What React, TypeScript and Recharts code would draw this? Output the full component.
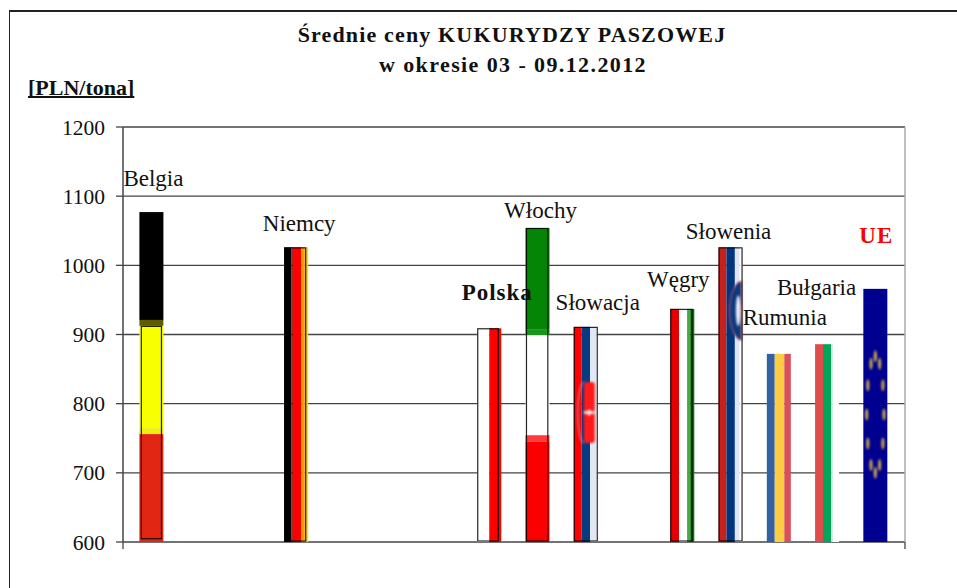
import React from "react";
import { BarChart, Bar, XAxis, YAxis, CartesianGrid, LabelList } from "recharts";

const countries = ["Belgia", "", "", "Niemcy", "", "", "", "Polska", "Włochy", "Słowacja", "", "Węgry", "Słowenia", "Rumunia", "Bułgaria", "UE"];
const prices = [1077, null, null, 1026, null, null, null, 909, 1054, 911, null, 937, 1026, 872, 886, 966];
const yTicks = [600, 700, 800, 900, 1000, 1100, 1200];
const titleLines = ["Średnie ceny KUKURYDZY PASZOWEJ", "w okresie 03 - 09.12.2012"];
const unitLabel = "[PLN/tona]";

const rows = countries.map((name, slot) => ({ slot, name, price: prices[slot] }));

const FONT = '"Liberation Serif", "Times New Roman", serif';

type Stripe = [number, number, string];
type Flag = { dir: "v" | "h"; stripes: Stripe[]; outline?: [number, number, number, number]; emblem?: "sk" | "si" | "eu" };

const flags: Record<string, Flag> = {
  Belgia: {
    dir: "h",
    stripes: [[0, 0.327, "#000000"], [0.327, 0.345, "#5f5c00"], [0.345, 0.655, "#f7ff00"], [0.655, 0.673, "#eeef10"], [0.673, 1, "#e12614"]],
    outline: [0.06, 0.345, 0.88, 0.648],
  },
  Niemcy: {
    dir: "v",
    stripes: [[0, 0.3, "#000000"], [0.3, 0.36, "#8a0000"], [0.36, 0.72, "#ff0000"], [0.72, 0.86, "#ff9a00"], [0.86, 0.92, "#ffd000"], [0.92, 1, "#ffe000"]],
    outline: [0, 0, 0.92, 1],
  },
  Polska: { dir: "v", stripes: [[0, 0.5, "#ffffff"], [0.5, 1, "#ff0000"]], outline: [0, 0, 0.9, 1] },
  "Włochy": {
    dir: "h",
    stripes: [[0, 0.322, "#058505"], [0.322, 0.342, "#1a941a"], [0.342, 0.66, "#ffffff"], [0.66, 0.68, "#ff3b3b"], [0.68, 1, "#fb0000"]],
    outline: [0.02, 0, 0.93, 1],
  },
  "Słowacja": { dir: "v", stripes: [[0, 0.32, "#ff0000"], [0.32, 0.68, "#0a3a80"], [0.68, 0.95, "#dfe8f4"], [0.95, 1, "#ffffff"]], outline: [0, 0, 1, 1], emblem: "sk" },
  "Węgry": { dir: "v", stripes: [[0, 0.37, "#e20000"], [0.37, 0.7, "#ffffff"], [0.7, 0.83, "#4ea64e"], [0.83, 1, "#007a00"]], outline: [0, 0, 0.93, 1] },
  "Słowenia": { dir: "v", stripes: [[0, 0.33, "#c8201a"], [0.33, 0.68, "#00357f"], [0.68, 0.88, "#dfe6f0"], [0.88, 1, "#ffffff"]], outline: [0, 0, 1, 1], emblem: "si" },
  Rumunia: { dir: "v", stripes: [[0, 0.33, "#34619f"], [0.33, 0.73, "#ffcb40"], [0.73, 1, "#d9505a"]] },
  "Bułgaria": { dir: "v", stripes: [[0, 0.33, "#e04c4c"], [0.33, 0.67, "#02a65a"], [0.67, 0.75, "#cfeedd"], [0.75, 1, "#ffffff"]] },
  UE: { dir: "v", stripes: [[0, 1, "#000090"]], emblem: "eu" },
};

const labelStyle: Record<string, { dx: number; dy: number; color?: string; bold?: boolean }> = {
  Belgia: { dx: 2, dy: -26 },
  Niemcy: { dx: 3, dy: -16 },
  Polska: { dx: 8, dy: -28, bold: true },
  "Włochy": { dx: 3, dy: -10 },
  "Słowacja": { dx: 12, dy: -17 },
  "Węgry": { dx: -4, dy: -22 },
  "Słowenia": { dx: -2, dy: -8 },
  Rumunia: { dx: 6, dy: -29 },
  "Bułgaria": { dx: -10.5, dy: -49 },
  UE: { dx: 1, dy: -46, color: "#ff0000", bold: true },
};

const euStars: [number, number][] = [
  [0, -0.23], [-0.5, -0.2], [0.5, -0.2], [-0.87, -0.115], [0.87, -0.115], [-1, 0],
  [1, 0], [-0.87, 0.115], [0.87, 0.115], [-0.5, 0.2], [0.5, 0.2], [0, 0.23],
];

const soft: React.CSSProperties = { filter: "blur(0.8px)" };

function Emblem({ kind, x, y, w, h }: { kind: string; x: number; y: number; w: number; h: number }) {
  if (kind === "sk") {
    const top = y + h * 0.256;
    const bot = y + h * 0.54;
    const right = x + w * 0.88;
    return (
      <g style={soft}>
        <path d={`M${x + w * 0.42} ${top} A${w * 0.25} ${(bot - top) / 2} 0 0 0 ${x + w * 0.42} ${bot}`} fill="none" stroke="#9fb4d8" strokeWidth={1} />
        <rect x={x + w * 0.42} y={top} width={right - x - w * 0.42} height={bot - top} rx={3} fill="#ff1a1a" />
        <rect x={x + w * 0.42} y={(top + bot) / 2 - 1.5} width={right - x - w * 0.42} height={3} fill="#ffd0d0" />
        <rect x={x + w * 0.6} y={(top + bot) / 2 - 3} width={2} height={6} fill="#ffffff" />
      </g>
    );
  }
  if (kind === "si") {
    const top = y + h * 0.115;
    const bot = y + h * 0.315;
    const right = x + w * 0.96;
    const arc = `M${right} ${top} A${w * 0.5} ${(bot - top) / 2} 0 0 0 ${right} ${bot} Z`;
    return (
      <g style={soft}>
        <path d={arc} fill="#0a3a80" stroke="#e05050" strokeWidth={1} />
        <ellipse cx={right - w * 0.14} cy={(top + bot) / 2} rx={w * 0.1} ry={(bot - top) * 0.26} fill="#e8eef8" />
      </g>
    );
  }
  const cx = x + w / 2;
  const cy = y + h * 0.496;
  return (
    <g style={{ filter: "blur(1px)" }}>
      {euStars.map(([sx, sy], i) => (
        <ellipse key={i} cx={cx + sx * w * 0.36} cy={cy + sy * h} rx={1.6} ry={6} fill="#c8a848" />
      ))}
    </g>
  );
}

function FlagBar(props: any) {
  const { x, y, width: w, height: h, payload } = props;
  if (!payload || payload.price == null) return null;
  const flag = flags[payload.name];
  return (
    <g>
      {flag.stripes.map(([a, b, color], i) =>
        flag.dir === "v" ? (
          <rect key={i} x={x + a * w} y={y} width={(b - a) * w} height={h} fill={color} />
        ) : (
          <rect key={i} x={x} y={y + a * h} width={w} height={(b - a) * h} fill={color} />
        ),
      )}
      {flag.emblem ? <Emblem kind={flag.emblem} x={x} y={y} w={w} h={h} /> : null}
      {flag.outline ? (
        <rect
          x={x + flag.outline[0] * w + 0.5}
          y={y + flag.outline[1] * h + 0.5}
          width={flag.outline[2] * w - 1}
          height={flag.outline[3] * h - 1.5}
          fill="none"
          stroke="#000000"
          strokeOpacity={0.85}
          strokeWidth={1.2}
        />
      ) : null}
    </g>
  );
}

function CountryLabel(props: any) {
  const { x, y, width, value } = props;
  const name = value as string;
  if (!name || y == null || !labelStyle[name]) return null;
  const s = labelStyle[name];
  return (
    <text
      x={x + width / 2 + s.dx}
      y={y + s.dy}
      textAnchor="middle"
      fontFamily={FONT}
      fontSize={23}
      fontWeight={s.bold ? 700 : 400}
      letterSpacing={s.bold ? 1 : 0}
      fill={s.color ?? "#111111"}
    >
      {name}
    </text>
  );
}

const textBase: React.CSSProperties = {
  position: "absolute",
  fontFamily: FONT,
  fontWeight: 700,
  fontSize: 22,
  color: "#111",
  whiteSpace: "nowrap",
  lineHeight: "24px",
};

export default function App() {
  return (
    <div style={{ position: "absolute", left: 0, top: 0, width: 957, height: 588, background: "#fff", overflow: "hidden" }}>
      <div style={{ position: "absolute", left: 9, top: 10, width: 960, height: 600, borderLeft: "1.5px solid #222", borderTop: "2px solid #222", boxSizing: "border-box" }} />
      <BarChart
        width={957}
        height={588}
        data={rows}
        margin={{ top: 127, right: 52, bottom: 46, left: 0 }}
        barSize={24}
        style={{ position: "absolute", left: 0, top: 0 }}
      >
        <CartesianGrid vertical={false} stroke="#444444" strokeWidth={1.3} />
        <XAxis
          dataKey="slot"
          type="category"
          tick={false}
          tickLine={false}
          height={0}
          padding={{ left: 4.4, right: 5.4 }}
          axisLine={{ stroke: "#444444", strokeWidth: 1.5 }}
        />
        <YAxis
          width={123}
          domain={[600, 1200]}
          ticks={yTicks}
          interval={0}
          tickSize={7}
          tickMargin={11}
          axisLine={{ stroke: "#444444", strokeWidth: 1.5 }}
          tickLine={{ stroke: "#444444", strokeWidth: 1.3 }}
          tick={{ fontFamily: FONT, fontSize: 21.5, fill: "#111111" }}
        />
        <Bar dataKey="price" shape={FlagBar} isAnimationActive={false}>
          <LabelList dataKey="name" content={CountryLabel} />
        </Bar>
      </BarChart>
      <svg width={957} height={588} style={{ position: "absolute", left: 0, top: 0, pointerEvents: "none" }}>
        <line x1={905} y1={127} x2={905} y2={542} stroke="#aaaaaa" strokeWidth={1.5} />
        <line x1={123} y1={542} x2={123} y2={549} stroke="#444444" strokeWidth={1.3} />
        <line x1={905} y1={542} x2={905} y2={549} stroke="#444444" strokeWidth={1.3} />
      </svg>
      <div style={{ ...textBase, left: 0, width: 1024, top: 23, textAlign: "center", letterSpacing: 1.15 }}>{titleLines[0]}</div>
      <div style={{ ...textBase, left: 0, width: 1026, top: 53, textAlign: "center", letterSpacing: 1.4 }}>{titleLines[1]}</div>
      <div style={{ ...textBase, left: 28, top: 76, textDecorationLine: "underline", textDecorationThickness: 2, textDecorationSkipInk: "none" }}>{unitLabel}</div>
    </div>
  );
}
